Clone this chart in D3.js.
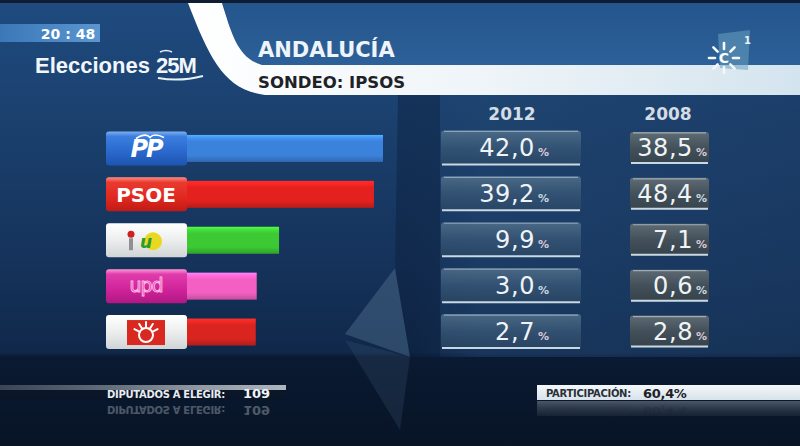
<!DOCTYPE html>
<html><head><meta charset="utf-8">
<script src="https://cdn.jsdelivr.net/npm/d3@7"></script>
<style>html,body{margin:0;padding:0;background:#0b1a30;}svg{display:block;}</style>
</head><body>
<script>
// ---- data ----
const parties = ["PP", "PSOE", "IU", "UPyD", "PA"];
const values2012 = [42.0, 39.2, 9.9, 3.0, 2.7];
const values2008 = [38.5, 48.4, 7.1, 0.6, 2.8];
const years = ["2012", "2008"];
const barColors = ["#3b82dc", "#e3211f", "#3cc934", "#f45fc4", "#d92420"];
const title = "ANDALUCÍA";
const subtitle = "SONDEO: IPSOS";
const clock = "20 : 48";
const seatsLabel = "DIPUTADOS A ELEGIR:";
const seatsValue = "109";
const turnoutLabel = "PARTICIPACIÓN:";
const turnoutValue = "60,4%";

const W = 800, H = 446;
const svg = d3.select("body").append("svg").attr("width", W).attr("height", H);
const defs = svg.append("defs");

function vgrad(id, stops) {
  const g = defs.append("linearGradient").attr("id", id).attr("x1", 0).attr("y1", 0).attr("x2", 0).attr("y2", 1);
  stops.forEach(s => g.append("stop").attr("offset", s[0]).attr("stop-color", s[1]).attr("stop-opacity", s[2] == null ? 1 : s[2]));
  return "url(#" + id + ")";
}
function hgrad(id, stops) {
  const g = defs.append("linearGradient").attr("id", id).attr("x1", 0).attr("y1", 0).attr("x2", 1).attr("y2", 0);
  stops.forEach(s => g.append("stop").attr("offset", s[0]).attr("stop-color", s[1]).attr("stop-opacity", s[2] == null ? 1 : s[2]));
  return "url(#" + id + ")";
}

// ---- background ----
svg.append("rect").attr("width", W).attr("height", H)
  .attr("fill", vgrad("bg", [[0, "#1f4b80"], [0.3, "#1a3f6c"], [0.6, "#15325a"], [0.79, "#10284a"], [0.8, "#0a1a32"], [1, "#081426"]]));
// right lighter zone
svg.append("rect").attr("x", 400).attr("y", 95).attr("width", 400).attr("height", 262)
  .attr("fill", hgrad("bgR", [[0, "#1e406a", 0.0], [0.2, "#21456f", 0.5], [1, "#1c3c64", 0.5]]));
// dark diagonal
svg.append("path").attr("d", "M398,95 L440,95 L440,357 L410,357 L395,270 Z").attr("fill", "#0b1c36").attr("opacity", 0.4);
// light triangle + reflection
svg.append("path").attr("d", "M345,334 L395,268 L410,357 Z").attr("fill", "#5a7a98").attr("opacity", 0.4);
svg.append("path").attr("d", "M345,340 L410,357 L400,430 Z").attr("fill", "#4a6a88").attr("opacity", 0.2);

// top header zone right of swoosh
svg.append("path").attr("d", "M222,0 L800,0 L800,65 L262,65 C238,58 232,35 222,0 Z")
  .attr("fill", vgrad("hdr", [[0, "#24558c"], [1, "#2d6098"]]));
svg.append("rect").attr("width", W).attr("height", 3).attr("fill", "#0e1c34");
// white swoosh + band
svg.append("path").attr("d", "M188,3 L222,3 C232,35 238,58 262,65 L800,65 L800,95 L265,95 C225,90 210,60 188,3 Z")
  .attr("fill", hgrad("band", [[0, "#ffffff"], [0.5, "#eef4f8"], [1, "#d4e4ee"]]));

// ---- header texts ----
svg.append("rect").attr("x", 0).attr("y", 24).attr("width", 100).attr("height", 18)
  .attr("fill", hgrad("clk", [[0, "#3c78b8"], [1, "#5a96d0"]]));
svg.append("text").attr("x", 68).attr("y", 38.5).attr("text-anchor", "middle")
  .attr("font-family", "DejaVu Sans").attr("font-weight", "bold").attr("font-size", 14)
  .attr("fill", "#ffffff").text(clock);
const el = svg.append("text").attr("x", 35).attr("y", 73)
  .attr("font-family", "Liberation Sans").attr("font-weight", "bold").attr("font-size", 22).attr("fill", "#f2f6fa");
el.append("tspan").text("Elecciones ");
el.append("tspan").attr("letter-spacing", -1).text("25M");
svg.append("path").attr("d", "M158,78 Q180,82 203,76").attr("stroke", "#e8f0f8").attr("stroke-width", 2).attr("fill", "none");
svg.append("path").attr("d", "M160,52 Q166,49 172,52").attr("stroke", "#e8f0f8").attr("stroke-width", 1.5).attr("fill", "none");

svg.append("text").attr("x", 258).attr("y", 57)
  .attr("font-family", "DejaVu Sans").attr("font-weight", "bold").attr("font-size", 21)
  .attr("fill", "#eef4fa").text(title);
svg.append("text").attr("x", 258).attr("y", 88)
  .attr("font-family", "DejaVu Sans").attr("font-weight", "bold").attr("font-size", 16.5)
  .attr("fill", "#1e2226").text(subtitle);

// Canal Sur logo
const logo = svg.append("g");
logo.append("path").attr("d", "M718,34 L750,30 L748,70 L720,68 Z").attr("fill", "#6aa0c0").attr("opacity", 0.55);
const sc = [724, 58];
d3.range(8).forEach(i => {
  const a = i * Math.PI / 4;
  logo.append("line")
    .attr("x1", sc[0] + Math.cos(a) * 9).attr("y1", sc[1] + Math.sin(a) * 9)
    .attr("x2", sc[0] + Math.cos(a) * 15).attr("y2", sc[1] + Math.sin(a) * 15)
    .attr("stroke", "#f4f8fa").attr("stroke-width", 2.6).attr("stroke-linecap", "round");
});
logo.append("text").attr("x", sc[0]).attr("y", sc[1] + 5).attr("text-anchor", "middle")
  .attr("font-family", "DejaVu Sans").attr("font-weight", "bold").attr("font-size", 14).attr("fill", "#ffffff").text("C");
logo.append("text").attr("x", 744).attr("y", 44)
  .attr("font-family", "DejaVu Sans").attr("font-weight", "bold").attr("font-size", 10).attr("fill", "#e8f2f8").text("1");

// ---- column headers ----
const colX = d3.scaleOrdinal().domain(years).range([512, 668]);
svg.selectAll("text.yr").data(years).join("text").attr("class", "yr")
  .attr("x", d => colX(d)).attr("y", 120).attr("text-anchor", "middle")
  .attr("font-family", "DejaVu Sans").attr("font-weight", "bold").attr("font-size", 17)
  .attr("fill", "#d4dce4").text(d => d);

// ---- scales ----
const y = d3.scaleBand().domain(parties).range([125.5, 355]);
// bars have a minimum visible length beyond the logo: value 0 maps to 247
const x = d3.scaleLinear().domain([0, 42]).range([247, 383]);
const cy = p => y(p) + y.bandwidth() / 2;

// ---- bars ----
const barH = 27, barStart = 150;
parties.forEach((p, i) => {
  const c = d3.color(barColors[i]);
  const fill = vgrad("bar" + i, [[0, c.brighter(0.9).formatHex()], [0.12, c.brighter(0.3).formatHex()], [0.25, c.formatHex()], [0.75, c.formatHex()], [1, c.darker(0.6).formatHex()]]);
  svg.append("rect").attr("x", barStart).attr("y", cy(p) - barH / 2)
    .attr("width", x(values2012[i]) - barStart).attr("height", barH).attr("fill", fill);
});

// ---- party logos ----
const LX = 106, LW = 81, LH = 34;
function logoBox(p, id, stops) {
  svg.append("rect").attr("x", LX).attr("y", cy(p) - LH / 2).attr("width", LW).attr("height", LH).attr("rx", 3)
    .attr("fill", vgrad(id, stops));
}
// PP
logoBox("PP", "lgPP", [[0, "#7fb0f0"], [0.15, "#3a7ee0"], [0.6, "#2a68cc"], [1, "#1d55b0"]]);
svg.append("text").attr("x", 146).attr("y", cy("PP") + 9).attr("text-anchor", "middle")
  .attr("font-family", "DejaVu Sans").attr("font-weight", "bold").attr("font-style", "italic").attr("font-size", 24)
  .attr("letter-spacing", -2).attr("fill", "#ffffff").text("PP");
svg.append("path").attr("d", `M136,${cy("PP") - 10} Q146,${cy("PP") - 16} 150,${cy("PP") - 11} Q154,${cy("PP") - 16} 164,${cy("PP") - 11}`)
  .attr("stroke", "#ffffff").attr("stroke-width", 1.6).attr("fill", "none");
// PSOE
logoBox("PSOE", "lgPS", [[0, "#ff8a80"], [0.15, "#ea3a30"], [0.6, "#e0281f"], [1, "#c01a16"]]);
svg.append("text").attr("x", 146).attr("y", cy("PSOE") + 8).attr("text-anchor", "middle")
  .attr("font-family", "DejaVu Sans").attr("font-weight", "bold").attr("font-size", 20)
  .attr("fill", "#ffffff").text("PSOE");
// IU
logoBox("IU", "lgIU", [[0, "#ffffff"], [0.5, "#eceeee"], [1, "#d0d4d6"]]);
svg.append("circle").attr("cx", 153).attr("cy", cy("IU") + 1).attr("r", 9).attr("fill", "#e8d820");
svg.append("circle").attr("cx", 131).attr("cy", cy("IU") - 6).attr("r", 3.5).attr("fill", "#d02020");
svg.append("rect").attr("x", 129).attr("y", cy("IU") - 2).attr("width", 4).attr("height", 12).attr("fill", "#909090");
svg.append("text").attr("x", 146).attr("y", cy("IU") + 8).attr("text-anchor", "middle")
  .attr("font-family", "DejaVu Sans").attr("font-weight", "bold").attr("font-style", "italic").attr("font-size", 17)
  .attr("fill", "#2a9a30").text("u");
// UPyD
logoBox("UPyD", "lgUP", [[0, "#ff9ad8"], [0.15, "#e03cac"], [0.6, "#d0239a"], [1, "#b01884"]]);
svg.append("text").attr("x", 146).attr("y", cy("UPyD") + 6).attr("text-anchor", "middle")
  .attr("font-family", "DejaVu Sans").attr("font-size", 19).attr("letter-spacing", -1)
  .attr("fill", "#d0239a").attr("stroke", "#ffb8e4").attr("stroke-width", 1).text("upd");
// PA
logoBox("PA", "lgPA", [[0, "#ffffff"], [0.5, "#eceeee"], [1, "#d0d4d6"]]);
svg.append("rect").attr("x", 127).attr("y", cy("PA") - 12).attr("width", 38).attr("height", 25).attr("fill", "#d8281f");
svg.append("circle").attr("cx", 146).attr("cy", cy("PA") + 3).attr("r", 7).attr("fill", "none").attr("stroke", "#ffffff").attr("stroke-width", 2);
d3.range(5).forEach(k => {
  const a = -Math.PI * (0.15 + k * 0.175);
  svg.append("line").attr("x1", 146 + Math.cos(a) * 7).attr("y1", cy("PA") + 3 + Math.sin(a) * 7)
    .attr("x2", 146 + Math.cos(a) * 13).attr("y2", cy("PA") + 3 + Math.sin(a) * 13)
    .attr("stroke", "#ffffff").attr("stroke-width", 2).attr("stroke-linecap", "round");
});

// ---- value boxes ----
const fmt = v => d3.format(".1f")(v).replace(".", ",");
const boxSpec = {
  "2012": { x0: 441, w: 140, h: 35, numX: 535, fillId: "bx12", stops: [[0, "#5a7890", 0.75], [0.5, "#3c5a78", 0.7], [1, "#2c4864", 0.7]], edge: "#9cb4c8", vals: values2012 },
  "2008": { x0: 630, w: 79, h: 32, numX: 693, fillId: "bx08", stops: [[0, "#6a7478", 0.85], [0.5, "#4a5458", 0.85], [1, "#3a4448", 0.85]], edge: "#b4bcc0", vals: values2008 }
};
years.forEach(yr => {
  const s = boxSpec[yr];
  const fill = vgrad(s.fillId, s.stops);
  parties.forEach((p, i) => {
    const c = cy(p) - 0.5;
    const g = svg.append("g");
    g.append("rect").attr("x", s.x0).attr("y", c - s.h / 2).attr("width", s.w).attr("height", s.h).attr("rx", 3).attr("fill", fill);
    g.append("line").attr("x1", s.x0 + 3).attr("x2", s.x0 + s.w - 3).attr("y1", c - s.h / 2 + 1).attr("y2", c - s.h / 2 + 1)
      .attr("stroke", s.edge).attr("stroke-width", 1.2).attr("opacity", 0.8);
    g.append("line").attr("x1", s.x0 + 1).attr("x2", s.x0 + s.w - 1).attr("y1", c + s.h / 2 - 1).attr("y2", c + s.h / 2 - 1)
      .attr("stroke", "#c8d8e4").attr("stroke-width", 2);
    g.append("text").attr("x", s.numX).attr("y", c + 8.5).attr("text-anchor", "end")
      .attr("font-family", "DejaVu Sans").attr("font-size", 24).attr("letter-spacing", 0.6)
      .attr("fill", "#f0f4f6").text(fmt(s.vals[i]));
    g.append("text").attr("x", s.numX + 3).attr("y", c + 8.5)
      .attr("font-family", "DejaVu Sans").attr("font-weight", "bold").attr("font-size", 11)
      .attr("fill", i % 2 ? "#c8d8e0" : "#d8c8d8").text("%");
  });
});

// ---- bottom strip: seats ----
svg.append("rect").attr("x", 0).attr("y", 385).attr("width", 286).attr("height", 5)
  .attr("fill", hgrad("seatLine", [[0, "#6a7480", 0.5], [0.7, "#a0a8b0", 0.9], [1, "#c0c8d0", 0.9]]));
svg.append("rect").attr("x", 0).attr("y", 390).attr("width", 286).attr("height", 10).attr("fill", "#0c1626").attr("opacity", 0.6);
function seatsText(g) {
  g.append("text").attr("x", 107).attr("y", 398)
    .attr("font-family", "DejaVu Sans").attr("font-weight", "bold").attr("font-size", 10).attr("letter-spacing", -0.3)
    .attr("fill", "#e8ecf0").text(seatsLabel);
  g.append("text").attr("x", 243).attr("y", 398)
    .attr("font-family", "DejaVu Sans").attr("font-weight", "bold").attr("font-size", 13)
    .attr("fill", "#f0f4f6").text(seatsValue);
}
seatsText(svg.append("g"));
seatsText(svg.append("g").attr("transform", "translate(0,804) scale(1,-1)").attr("opacity", 0.3));

// ---- bottom strip: turnout ----
svg.append("rect").attr("x", 537).attr("y", 385).attr("width", 263).attr("height", 15)
  .attr("fill", vgrad("turn", [[0, "#f4f8fa"], [1, "#d8e2ea"]]));
svg.append("rect").attr("x", 537).attr("y", 401).attr("width", 263).attr("height", 15)
  .attr("fill", vgrad("turnR", [[0, "#8a98a4", 0.5], [1, "#4a5866", 0.2]]));
function turnText(g) {
  g.append("text").attr("x", 546).attr("y", 397)
    .attr("font-family", "DejaVu Sans").attr("font-weight", "bold").attr("font-size", 10).attr("letter-spacing", -0.3)
    .attr("fill", "#2a3038").text(turnoutLabel);
  g.append("text").attr("x", 643).attr("y", 397.5)
    .attr("font-family", "DejaVu Sans").attr("font-weight", "bold").attr("font-size", 13).attr("letter-spacing", -0.3)
    .attr("fill", "#1e2228").text(turnoutValue);
}
turnText(svg.append("g"));
turnText(svg.append("g").attr("transform", "translate(0,804) scale(1,-1)").attr("opacity", 0.25));
</script>
</body></html>
